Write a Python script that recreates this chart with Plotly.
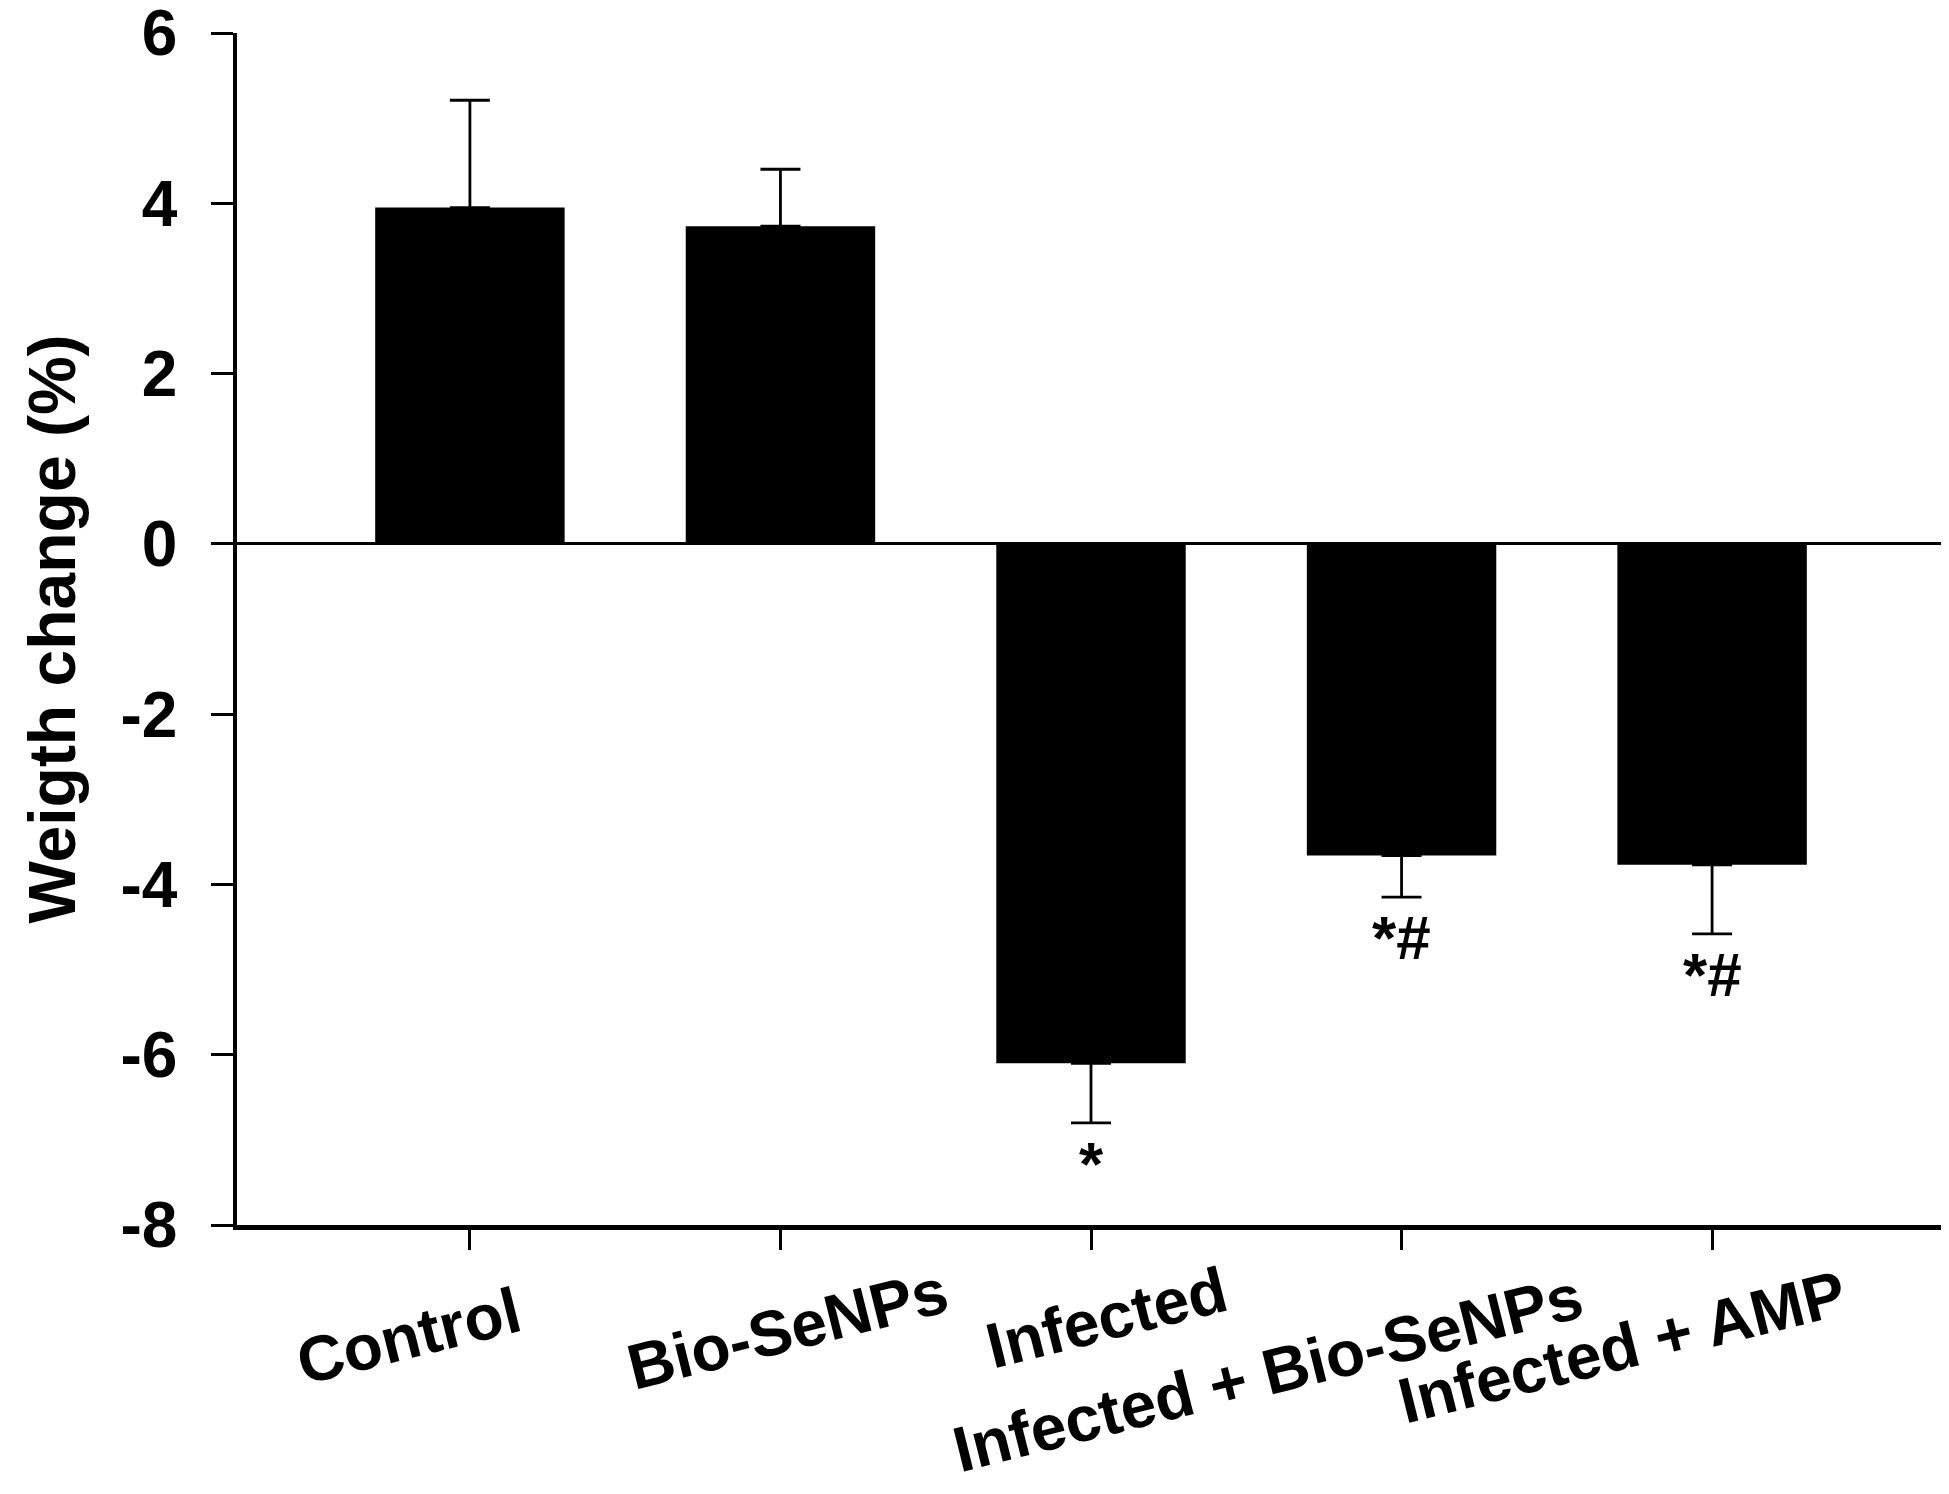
import plotly.graph_objects as go

# weight change per group
groups = ["Control", "Bio-SeNPs", "Infected", "Infected + Bio-SeNPs", "Infected + AMP"]
weight_change = [3.95, 3.73, -6.10, -3.66, -3.77]
sem = [1.26, 0.67, 0.70, 0.49, 0.81]
marks = ["", "", "*", "*#", "*#"]
y_ticks = [6, 4, 2, 0, -2, -4, -6, -8]
y_ticktext = ["6", "4", "2", "0", "-2", "-4", "-6", "-8"]

# one sided error bars: up for gains, down for losses
err_up = [e if v > 0 else 0 for v, e in zip(weight_change, sem)]
err_down = [e if v < 0 else 0 for v, e in zip(weight_change, sem)]

# hand placement of the slanted group labels (px from tick at the x axis)
label_dx = [-61, 7, 15, -134, -90]
label_dy = [-111, -104, -93, -148, -122]

FONT = "Liberation Sans, Arial, sans-serif"

bars = go.Bar(
    x=groups, y=weight_change, width=0.61,
    marker=dict(color="black", line=dict(color="black", width=0)),
    error_y=dict(type="data", symmetric=False, array=err_up, arrayminus=err_down,
                 color="black", thickness=2.8, width=20),
    showlegend=False,
)

fig = go.Figure(data=[bars])

for g, m, v, e in zip(groups, marks, weight_change, sem):
    if m:
        fig.add_annotation(x=g, y=v - e, text=m, showarrow=False, yanchor="top",
                           yshift=-4, font=dict(family=FONT, size=62, color="black", weight="bold"))

for g, dx, dy in zip(groups, label_dx, label_dy):
    fig.add_annotation(x=g, y=-8, text=g, showarrow=False, textangle=-14,
                       xanchor="center", yanchor="middle", xshift=dx, yshift=dy,
                       font=dict(family=FONT, size=64, color="black", weight="bold"))

# page body adds an 8px offset, so the figure is a bit smaller than the window
fig.update_layout(
    width=1940, height=1485,
    margin=dict(l=229, r=3, t=25, b=268),
    plot_bgcolor="white", paper_bgcolor="white",
    font=dict(family=FONT, size=64, color="black", weight="bold"),
)
fig.update_xaxes(
    range=[-0.75, 4.75], showticklabels=False, automargin=False,
    showline=True, linecolor="black", linewidth=4.5,
    ticks="outside", ticklen=20, tickwidth=2.5, tickcolor="black",
    showgrid=False, zeroline=False,
)
fig.update_yaxes(
    range=[-8, 6], tickvals=y_ticks, ticktext=y_ticktext, automargin=False,
    showline=True, linecolor="black", linewidth=3.5,
    ticks="outside", ticklen=22, tickwidth=2.5, tickcolor="black",
    ticklabelstandoff=21, ticklabeloverflow="allow",
    tickfont=dict(family=FONT, size=64, color="black", weight="bold"),
    showgrid=False, zeroline=True, zerolinecolor="black", zerolinewidth=3,
    title=dict(text="Weigth change (%)", standoff=24,
               font=dict(family=FONT, size=66, color="black", weight="bold")),
)

fig.write_html("out.html")
